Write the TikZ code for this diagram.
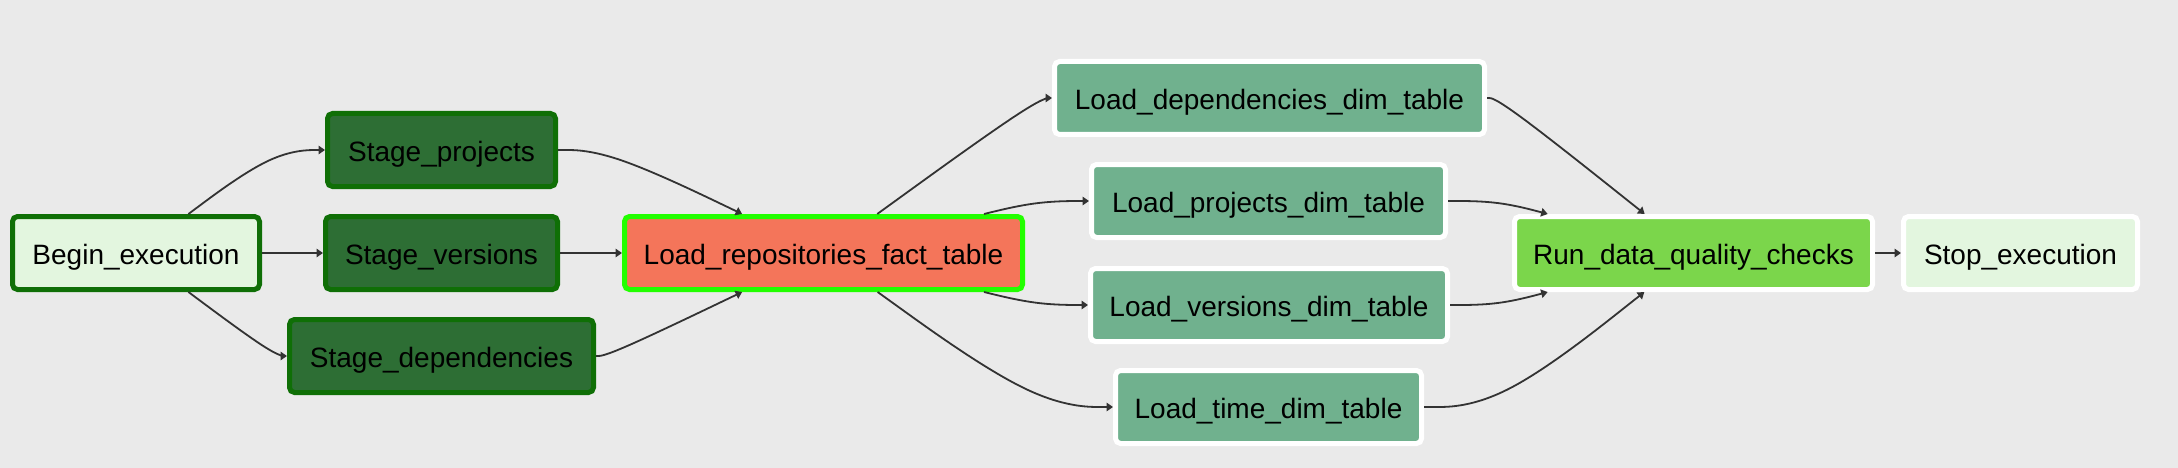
\documentclass[tikz,border=0pt]{standalone}
\usepackage{fontspec}
\setmainfont{Liberation Sans}
\usetikzlibrary{calc,arrows.meta}
\definecolor{bg}{HTML}{EAEAEA}
\definecolor{okgreen}{HTML}{0F6F06}
\definecolor{stagefill}{HTML}{2D6E34}
\definecolor{lightfill}{HTML}{E3F6DF}
\definecolor{factfill}{HTML}{F4755A}
\definecolor{lime}{HTML}{22FF00}
\definecolor{dimfill}{HTML}{70B18E}
\definecolor{dqfill}{HTML}{7BD64B}
\definecolor{edgec}{HTML}{333333}
\newcommand\dagedge[3]{%
  \path (#1) -- (#2) coordinate[pos=0] (#2s);
  \path (#2) -- (#3) coordinate[pos=1] (#2t);
  \draw[dagline] (#2s) -- ($(#2s)!0.1666667!(#2)$)
    .. controls ($(#2s)!0.3333333!(#2)$) and ($(#2s)!0.6666667!(#2)$)
    .. ($0.1666667*(#2s)+0.6666667*(#2)+0.1666667*(#2t)$)
    .. controls ($(#2)!0.3333333!(#2t)$) and ($(#2)!0.6666667!(#2t)$)
    .. ($(#2)!0.8333333!(#2t)$) -- (#2t);
}
\begin{document}
\begin{tikzpicture}[x=1pt,y=1pt,
  box/.style={draw, line width=5pt, rounded corners=5pt, inner sep=0pt,
    minimum height=73pt, text height=25pt, text depth=2pt,
    font=\fontsize{28}{34}\selectfont, text=black},
  okbox/.style={box, draw=okgreen},
  stagebox/.style={okbox, fill=stagefill},
  factbox/.style={box, draw=lime, fill=factfill},
  dimbox/.style={box, draw=white, fill=dimfill},
  dqbox/.style={box, draw=white, fill=dqfill},
  stopbox/.style={box, draw=white, fill=lightfill},
  dagline/.style={draw=edgec, line width=1.8pt, -{Triangle[length=6.5pt,width=8.5pt]}}
]
\fill[bg] (0,0) rectangle (2178,-468);
\useasboundingbox (0,0) rectangle (2178,-468);

\node[okbox, fill=lightfill, minimum width=247pt] (begin) at (136,-253) {Begin\_execution};
\node[stagebox, minimum width=228pt] (sp) at (441.5,-150) {Stage\_projects};
\node[stagebox, minimum width=232pt] (sv) at (441.5,-253) {Stage\_versions};
\node[stagebox, minimum width=304pt] (sd) at (441.5,-356) {Stage\_dependencies};
\node[factbox, minimum width=398pt] (lr) at (823.5,-253) {Load\_repositories\_fact\_table};
\node[dimbox, minimum width=430pt] (ldd) at (1269.5,-98) {Load\_dependencies\_dim\_table};
\node[dimbox, minimum width=354pt] (lpd) at (1268.5,-201) {Load\_projects\_dim\_table};
\node[dimbox, minimum width=357pt] (lvd) at (1269,-305) {Load\_versions\_dim\_table};
\node[dimbox, minimum width=306pt] (ltd) at (1268.5,-407) {Load\_time\_dim\_table};
\node[dqbox, minimum width=358pt] (run) at (1693.5,-253) {Run\_data\_quality\_checks};
\node[stopbox, minimum width=234pt] (stop) at (2020.5,-253) {Stop\_execution};

\coordinate (d1) at (274.5,-150);
\coordinate (d2) at (274.5,-253);
\coordinate (d3) at (274.5,-356);
\coordinate (d4) at (608.5,-150);
\coordinate (d5) at (608.5,-253);
\coordinate (d6) at (608.5,-356);
\coordinate (d7) at (1037.5,-98);
\coordinate (d8) at (1037.5,-201);
\coordinate (d9) at (1037.5,-305);
\coordinate (d10) at (1037.5,-407);
\coordinate (d11) at (1499,-98);
\coordinate (d12) at (1499,-201);
\coordinate (d13) at (1499,-305);
\coordinate (d14) at (1499,-407);
\coordinate (d15) at (1887.5,-253);

\dagedge{begin}{d1}{sp}
\dagedge{begin}{d2}{sv}
\dagedge{begin}{d3}{sd}
\dagedge{sp}{d4}{lr}
\dagedge{sv}{d5}{lr}
\dagedge{sd}{d6}{lr}
\dagedge{lr}{d7}{ldd}
\dagedge{lr}{d8}{lpd}
\dagedge{lr}{d9}{lvd}
\dagedge{lr}{d10}{ltd}
\dagedge{ldd}{d11}{run}
\dagedge{lpd}{d12}{run}
\dagedge{lvd}{d13}{run}
\dagedge{ltd}{d14}{run}
\dagedge{run}{d15}{stop}
\end{tikzpicture}
\end{document}
